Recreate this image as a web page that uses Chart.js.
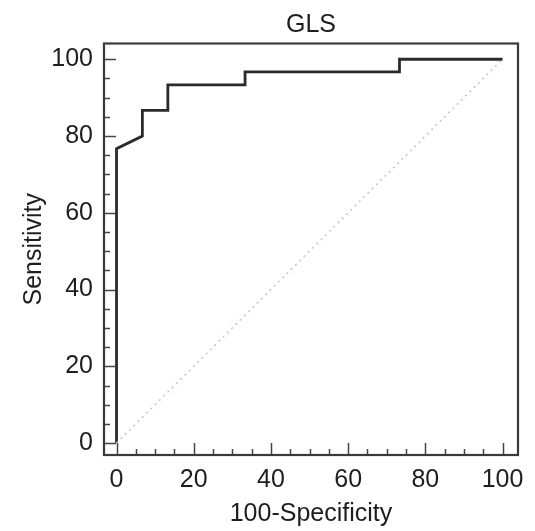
<!DOCTYPE html>
<html>
<head>
<meta charset="utf-8">
<script src="https://cdn.jsdelivr.net/npm/chart.js@4/dist/chart.umd.min.js"></script>
<style>
  html, body { margin: 0; padding: 0; background: #fff; }
  #wrap { width: 535px; height: 531px; }
</style>
</head>
<body>
<div id="wrap"><canvas id="c" width="535" height="531"></canvas></div>
<script>
// ROC curve points (100-Specificity, Sensitivity)
const specComplement = [0, 0, 6.7, 6.7, 13.3, 13.3, 33.3, 33.3, 73.3, 73.3, 100];
const sensitivity    = [0, 76.7, 80, 86.7, 86.7, 93.3, 93.3, 96.7, 96.7, 100, 100];
// reference diagonal
const diagX = [0, 100];
const diagY = [0, 100];
// tick labels
const xTickLabels = [0, 20, 40, 60, 80, 100];
const yTickLabels = [0, 20, 40, 60, 80, 100];
const minorStep = 5;
const titleText = 'GLS';
const xTitle = '100-Specificity';
const yTitle = 'Sensitivity';

const FONT = 'Liberation Sans, Arial, Helvetica, sans-serif';
const TXT = '#1e1e1e';

const framePlugin = {
  id: 'frameTicks',
  afterDatasetsDraw(chart) {
    const ctx = chart.ctx;
    const a = chart.chartArea;
    const xs = chart.scales.x, ys = chart.scales.y;
    ctx.save();
    ctx.strokeStyle = '#444';
    ctx.lineWidth = 1.5;
    for (let v = xTickLabels[0]; v <= xTickLabels[xTickLabels.length - 1]; v += minorStep) {
      const px = Math.round(xs.getPixelForValue(v)) + 0.5;
      const len = xTickLabels.includes(v) ? 12 : 6;
      ctx.beginPath();
      ctx.moveTo(px, a.bottom);
      ctx.lineTo(px, a.bottom - len);
      ctx.stroke();
    }
    for (let v = yTickLabels[0]; v <= yTickLabels[yTickLabels.length - 1]; v += minorStep) {
      const py = Math.round(ys.getPixelForValue(v)) + 0.5;
      const len = yTickLabels.includes(v) ? 12 : 6;
      ctx.beginPath();
      ctx.moveTo(a.left, py);
      ctx.lineTo(a.left + len, py);
      ctx.stroke();
    }
    ctx.strokeStyle = '#3a3a3a';
    ctx.lineWidth = 2.2;
    ctx.strokeRect(a.left, a.top, a.right - a.left, a.bottom - a.top);
    // title centred over the plot area
    ctx.fillStyle = TXT;
    ctx.font = '25px ' + FONT;
    ctx.textAlign = 'center';
    ctx.textBaseline = 'alphabetic';
    ctx.fillText(titleText, (a.left + a.right) / 2, 31.5);
    ctx.restore();
  }
};

new Chart(document.getElementById('c'), {
  type: 'scatter',
  data: {
    datasets: [
      {
        data: diagX.map((x, i) => ({ x, y: diagY[i] })),
        showLine: true,
        borderColor: '#c4c4c4',
        borderWidth: 1.5,
        borderDash: [2, 4],
        pointRadius: 0,
        fill: false
      },
      {
        data: specComplement.map((x, i) => ({ x, y: sensitivity[i] })),
        showLine: true,
        borderColor: '#2a2a2a',
        borderWidth: 2.8,
        pointRadius: 0,
        fill: false,
        tension: 0
      }
    ]
  },
  options: {
    responsive: false,
    animation: false,
    events: [],
    layout: { padding: { top: 43.5, right: 17, bottom: 0, left: 0 } },
    plugins: {
      legend: { display: false },
      tooltip: { enabled: false },
      title: { display: false }
    },
    scales: {
      x: {
        type: 'linear',
        min: -3.24,
        max: 104.0,
        afterFit(s) { s.height = 76; },
        afterBuildTicks(s) { s.ticks = xTickLabels.map(v => ({ value: v })); },
        grid: { display: false, drawTicks: false },
        border: { display: false },
        ticks: {
          color: TXT,
          font: { family: FONT, size: 25 },
          padding: 10,
          maxRotation: 0,
          autoSkip: false
        },
        title: {
          display: true,
          text: xTitle,
          color: TXT,
          font: { family: FONT, size: 25 },
          padding: { top: 0, bottom: 2 }
        }
      },
      y: {
        type: 'linear',
        min: -3.1,
        max: 104.1,
        afterFit(s) { s.width = 104; },
        afterBuildTicks(s) { s.ticks = yTickLabels.map(v => ({ value: v })); },
        grid: { display: false, drawTicks: false },
        border: { display: false },
        ticks: {
          color: TXT,
          font: { family: FONT, size: 25 },
          padding: 11,
          autoSkip: false
        },
        title: {
          display: true,
          text: yTitle,
          color: TXT,
          font: { family: FONT, size: 25 },
          padding: { top: 19, bottom: 0 }
        }
      }
    }
  },
  plugins: [framePlugin]
});
</script>
</body>
</html>
